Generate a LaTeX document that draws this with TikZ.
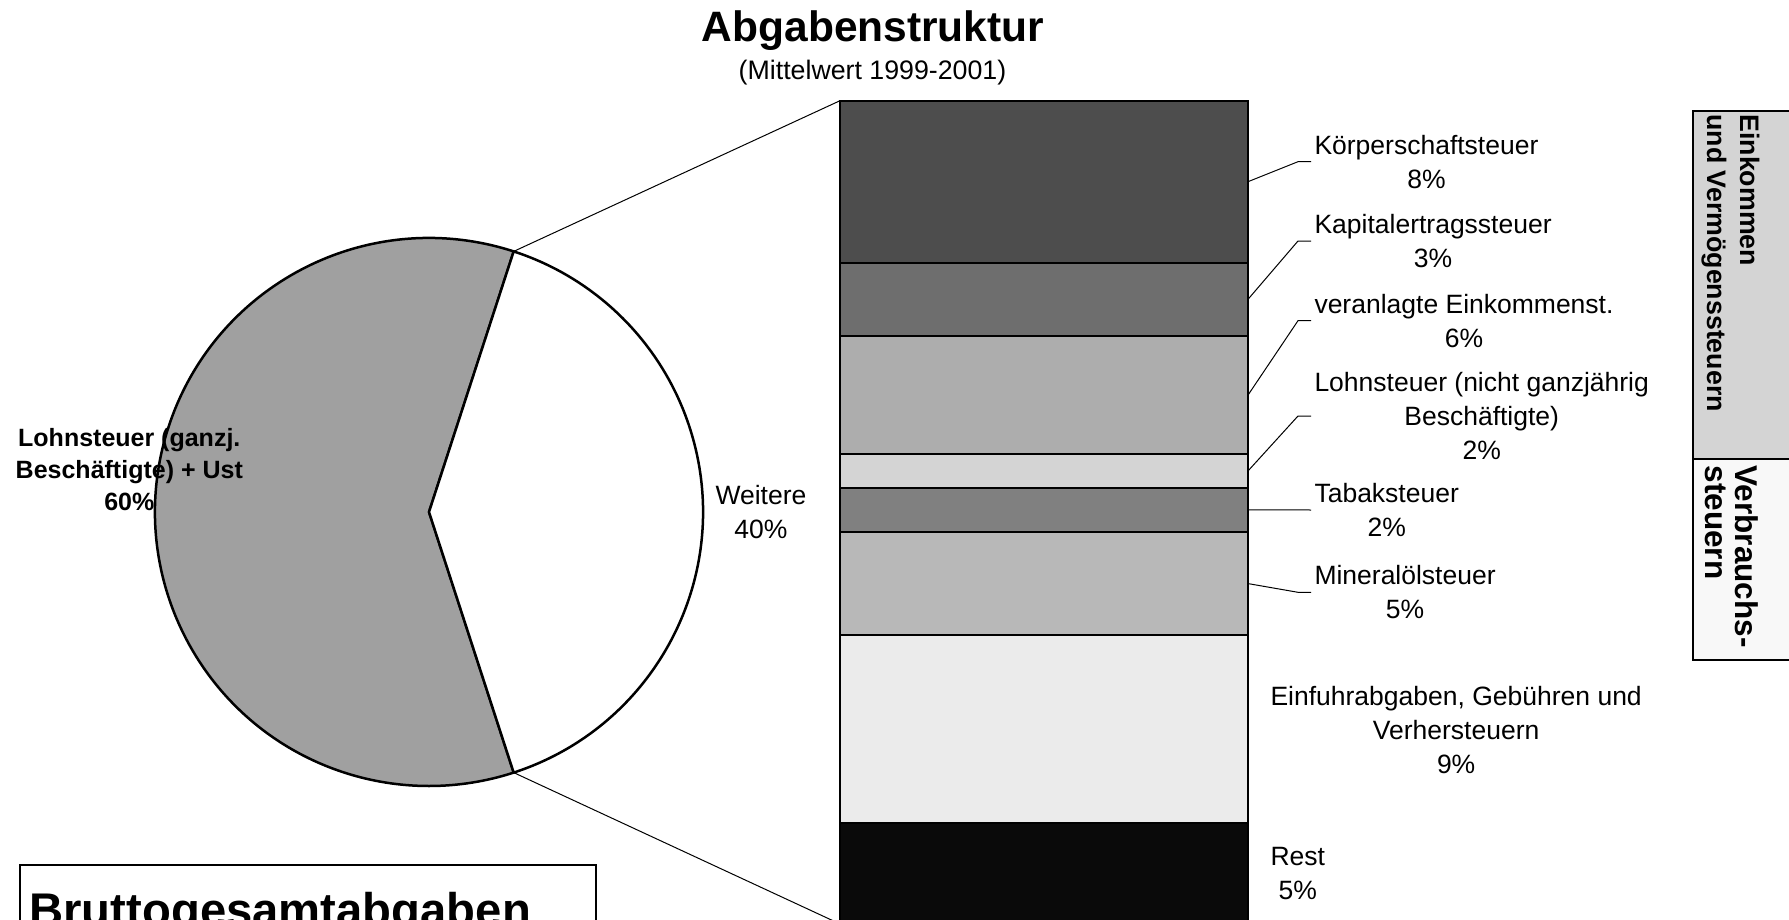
\documentclass[tikz,border=0pt]{standalone}
\usepackage{fontspec}
\setmainfont{Liberation Sans}
\usepackage{tikz}
\usetikzlibrary{positioning}

\definecolor{kstgray}{HTML}{4D4D4D}
\definecolor{kapgray}{HTML}{6E6E6E}
\definecolor{vergray}{HTML}{ADADAD}
\definecolor{lnzgray}{HTML}{D4D4D4}
\definecolor{tabgray}{HTML}{808080}
\definecolor{mingray}{HTML}{B8B8B8}
\definecolor{einfgray}{HTML}{EBEBEB}
\definecolor{restgray}{HTML}{0A0A0A}
\definecolor{piegray}{HTML}{A0A0A0}
\definecolor{sidegray}{HTML}{D4D4D4}
\definecolor{sidelight}{HTML}{F8F8F8}

\begin{document}
\begin{tikzpicture}[
    x=0.4pt, y=0.4pt,
    segment/.style={rectangle, draw=black, line width=0.9pt, minimum width=163.2pt, inner sep=0pt, outer sep=0pt},
    leader/.style={line width=0.4pt},
    barlabel/.style={anchor=west, align=center, inner sep=1.2pt, font=\fontsize{10.6}{13.6}\selectfont},
    pielabel/.style={align=center, inner sep=0pt},
    sidelabel/.style={rotate=-90, anchor=north west, align=left, inner sep=0pt}
]
\useasboundingbox (0,0) rectangle (1789,-920);

% Title
\node[font=\bfseries\fontsize{17}{20}\selectfont, anchor=base, inner sep=0pt] (title) at (873,-42) {Abgabenstruktur};
\node[font=\fontsize{10.7}{13}\selectfont, anchor=base, inner sep=0pt] (subtitle) at (872.5,-80) {(Mittelwert 1999-2001)};

% Pie with two wedges
\coordinate (pc) at (429,-512);
\filldraw[fill=piegray, line width=1pt, line join=round] (pc) -- ++(72:274) coordinate (ptop) arc[start angle=72, end angle=288, radius=274] coordinate (pbot) -- cycle;
\filldraw[fill=white, line width=1pt, line join=round] (pc) -- (pbot) arc[start angle=-72, end angle=72, radius=274] -- cycle;

% Stacked bar
\node[segment, fill=kstgray, minimum height=64.8pt, anchor=north west] (kst) at (840,-100.7) {};
\node[segment, fill=kapgray, minimum height=29.3pt, below=0pt of kst] (kap) {};
\node[segment, fill=vergray, minimum height=47.3pt, below=0pt of kap] (ver) {};
\node[segment, fill=lnzgray, minimum height=13.4pt, below=0pt of ver] (lnz) {};
\node[segment, fill=tabgray, minimum height=17.7pt, below=0pt of lnz] (tab) {};
\node[segment, fill=mingray, minimum height=41.3pt, below=0pt of tab] (min) {};
\node[segment, fill=einfgray, minimum height=75.2pt, below=0pt of min] (einf) {};
\node[segment, fill=restgray, minimum height=40.3pt, below=0pt of einf] (rest) {};

% Lines from pie to bar
\draw[leader] (ptop) -- (kst.north west);
\draw[leader] (pbot) -- (rest.south west);

% Pie labels
\node[pielabel, font=\bfseries\fontsize{10}{12.7}\selectfont] (lohn-lbl) at (129.3,-469.5) {Lohnsteuer (ganzj.\\Beschäftigte) + Ust\\60\%};
\node[pielabel, font=\fontsize{10.6}{13.4}\selectfont] (weitere-lbl) at (761,-512) {Weitere\\40\%};

% Bar labels
\node[barlabel] (kst-lbl) at (1311,-161.7) {Körperschaftsteuer\\8\%};
\node[barlabel] (kap-lbl) at (1311,-241) {Kapitalertragssteuer\\3\%};
\node[barlabel] (ver-lbl) at (1311,-320.7) {veranlagte Einkommenst.\\6\%};
\node[barlabel] (lnz-lbl) at (1311,-416) {Lohnsteuer (nicht ganzjährig\\Beschäftigte)\\2\%};
\node[barlabel] (tab-lbl) at (1311,-510) {Tabaksteuer\\2\%};
\node[barlabel] (min-lbl) at (1311,-592.3) {Mineralölsteuer\\5\%};
\node[barlabel] (einf-lbl) at (1267,-730.4) {Einfuhrabgaben, Gebühren und\\Verhersteuern\\9\%};
\node[barlabel] (rest-lbl) at (1267,-873.7) {Rest\\5\%};

% Leader lines
\draw[leader] (kst.east) -- ([xshift=-5.2pt]kst-lbl.west) -- (kst-lbl.west);
\draw[leader] (kap.east) -- ([xshift=-5.2pt]kap-lbl.west) -- (kap-lbl.west);
\draw[leader] (ver.east) -- ([xshift=-5.2pt]ver-lbl.west) -- (ver-lbl.west);
\draw[leader] (lnz.east) -- ([xshift=-5.2pt]lnz-lbl.west) -- (lnz-lbl.west);
\draw[leader] (tab.east) -- (tab-lbl.west);
\draw[leader] (min.east) -- ([xshift=-5.2pt]min-lbl.west) -- (min-lbl.west);

% Groups on the right
\draw[line width=0.6pt, fill=sidegray] (1693,-111) rectangle (1800,-459);
\draw[line width=0.6pt, fill=sidelight] (1693,-459) rectangle (1800,-660);
\node[sidelabel, font=\bfseries\fontsize{10.7}{13.2}\selectfont] (eink-lbl) at (1760,-114) {Einkommen\\und Vermögenssteuern};
\node[sidelabel, font=\bfseries\fontsize{12.6}{12.2}\selectfont] (verb-lbl) at (1759,-465) {Verbrauchs-\\steuern};

% Box at the bottom
\draw[line width=0.5pt] (20,-865) rectangle (596,-990);
\node[font=\bfseries\fontsize{18.9}{22}\selectfont, anchor=base west, inner sep=0pt] (brutto) at (29,-926) {Bruttogesamtabgaben};

\end{tikzpicture}
\end{document}
